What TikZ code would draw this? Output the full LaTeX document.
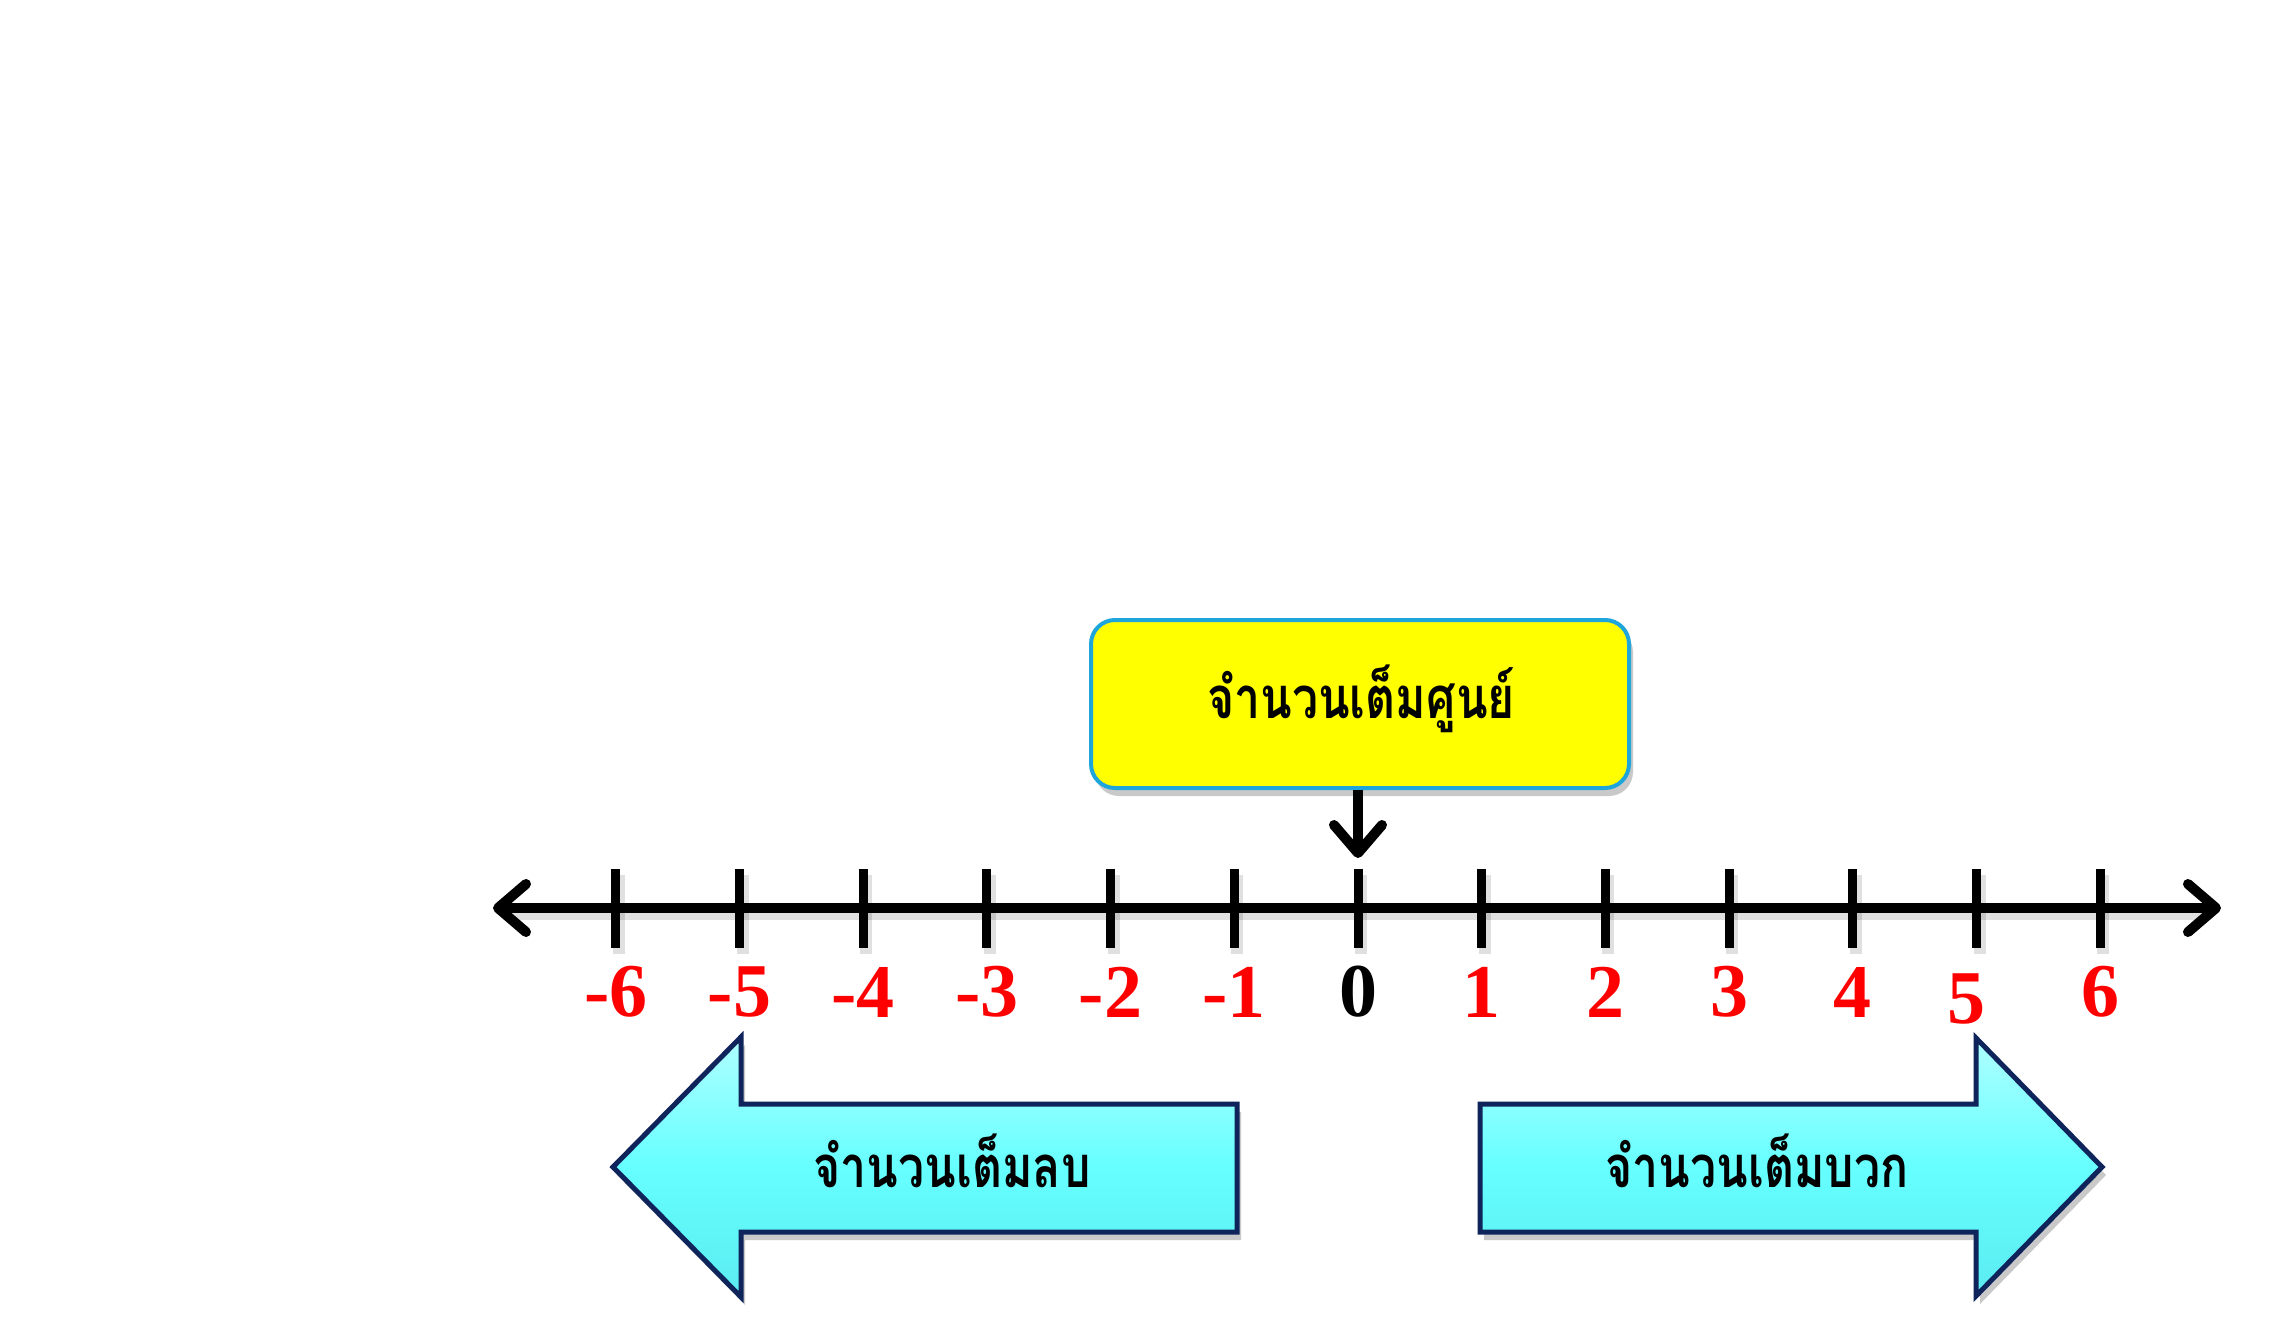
\documentclass[tikz,border=0pt]{standalone}
\usepackage{fontspec}
\setmainfont{Liberation Serif}
\newfontfamily\thaifont[Script=Thai,FakeStretch=0.8]{Loma}
\usetikzlibrary{arrows.meta,shadows}
\definecolor{numred}{RGB}{255,0,0}
\definecolor{boxyellow}{RGB}{255,255,0}
\definecolor{boxedge}{RGB}{30,165,220}
\definecolor{arrcyan}{RGB}{102,255,255}
\definecolor{arrcyanlight}{RGB}{175,255,255}
\definecolor{arrcyandark}{RGB}{90,235,240}
\definecolor{arredge}{RGB}{16,36,92}
\begin{document}
\begin{tikzpicture}[x=0.5pt,y=-0.5pt,
  axisline/.style={line width=5pt, line cap=round,
    arrows={Straight Barb[round,length=14pt,width=24pt]-Straight Barb[round,length=14pt,width=24pt]}},
  tickline/.style={line width=4.5pt},
  shadowline/.style={line width=6pt, draw=black, opacity=0.12},
  downarrow/.style={line width=5pt, arrows={-Straight Barb[round,length=14pt,width=24pt]}},
  numlabel/.style={font=\fontsize{38pt}{40pt}\selectfont\bfseries, text=numred, inner sep=0pt},
  zerobox/.style={draw=boxedge, line width=2pt, fill=boxyellow, rounded corners=12pt,
    minimum width=269pt, minimum height=84pt,
    drop shadow={shadow xshift=2pt, shadow yshift=-4pt, opacity=0.35, fill=black!60}},
  bigarrow/.style={draw=arredge, line width=2.5pt, line join=miter,
    top color=arrcyanlight, bottom color=arrcyandark, middle color=arrcyan,
    drop shadow={shadow xshift=2pt, shadow yshift=-4pt, opacity=0.35, fill=black!60}},
  thaitext/.style={font=\fontsize{29pt}{32pt}\thaifont\bfseries, inner sep=0pt, anchor=base}
]
\useasboundingbox (0,0) rectangle (2287,1333);
\fill[white] (0,0) rectangle (2287,1333);

% axis
\coordinate (axL) at (493,908);
\coordinate (axR) at (2221,908);
\draw[shadowline] (505,914) -- (2210,914);
\foreach \k in {-6,...,6} {
  \draw[shadowline] ({1361+123.7*\k},875) -- ({1361+123.7*\k},954);
}
\draw[axisline] (axL) -- (axR);

% ticks and labels
\foreach \k in {-6,...,6} {
  \coordinate (t\k top) at ({1358+123.7*\k},869);
  \coordinate (t\k bot) at ({1358+123.7*\k},948);
  \draw[tickline] (t\k top) -- (t\k bot);
}
\foreach \k in {-6,-5,-4,-3,-2,-1,1,2,3,4,6} {
  \node[numlabel] (n\k) at ({1358+123.7*\k},992) {\k};
}
\node[numlabel] (n5) at (1966,999) {5};
\node[numlabel, text=black] (n0) at (1358,992) {0};

% zero box
\node[zerobox] (zbox) at (1360,704) {};
\node[thaitext] (ztext) at (1361,718) {จำนวนเต็มศูนย์};
\coordinate (ztip) at (1358,858);
\draw[downarrow] (zbox.south -| ztip) -- (ztip);

% negative arrow
\path[bigarrow] (613,1167) -- (741,1037) -- (741,1104) -- (1237,1104) -- (1237,1232) -- (741,1232) -- (741,1297) -- cycle;
\node[thaitext] (neg) at (952,1187) {จำนวนเต็มลบ};

% positive arrow
\path[bigarrow] (2102,1167) -- (1976,1038) -- (1976,1104) -- (1480,1104) -- (1480,1232) -- (1976,1232) -- (1976,1296) -- cycle;
\node[thaitext] (pos) at (1757,1187) {จำนวนเต็มบวก};
\end{tikzpicture}
\end{document}
